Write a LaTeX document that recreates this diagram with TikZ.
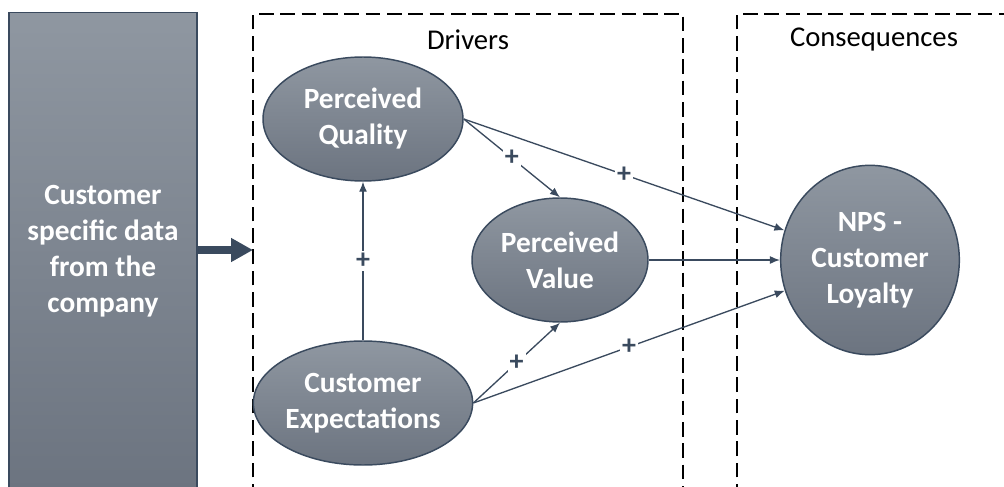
\documentclass[tikz,border=0pt]{standalone}
\usepackage{fontspec}
\setmainfont{Carlito}
\usetikzlibrary{arrows.meta,shapes.geometric,positioning}
\definecolor{topgray}{HTML}{8F97A1}
\definecolor{botgray}{HTML}{6C7480}
\definecolor{edgeblue}{HTML}{3A4A5E}
\tikzset{%
  >={Latex[width=6pt,length=7.5pt]},
  % Specifications for style of nodes:
         base/.style = {draw=edgeblue, line width=1.1pt, top color=topgray,
                        bottom color=botgray, text=white, align=center,
                        inner sep=0pt, font=\fontsize{22}{27}\selectfont\bfseries},
    construct/.style = {base, ellipse, minimum width=150pt, minimum height=93pt},
      outcome/.style = {base, ellipse, minimum width=134pt, minimum height=142pt},
      datasrc/.style = {base, rectangle, minimum width=141pt, minimum height=358pt},
        frame/.style = {dashed, line width=1.1pt, dash pattern=on 11pt off 5pt},
        title/.style = {font=\fontsize{21.5}{24}\selectfont},
         link/.style = {->, draw=edgeblue, line width=1pt},
         sign/.style = {fill=white, inner sep=1.5pt, text=edgeblue,
                        font=\fontsize{21}{21}\selectfont\bfseries},
}
\begin{document}
\begin{tikzpicture}[x=0.75pt, y=-0.75pt]
\useasboundingbox (0,0) rectangle (1004,486);

% dashed frames
\draw[frame] (253,520) |- (683,14) -- (683,520);
\draw[frame] (737,520) |- (1010,14);
\node (Drivers) [title] at (468,40) {Drivers};
\node (Conseq)  [title] at (874,40) {Consequences};

\node (Data)   [datasrc]   at (103,251) {Customer\\specific data\\from the\\company};

\node (PQ)     [construct] at (363,119) {Perceived\\Quality};

\node (CE)     [construct] at (363,403) {Customer\\Expectations};

\node (PV)     [construct, minimum width=132pt] at (560,260) {Perceived\\Value};

\node (NPS)    [outcome]   at (870,260) {NPS -\\Customer\\Loyalty};

\coordinate (In) at (253,250);

\draw[-{Triangle[length=16.5pt,width=17pt]}, draw=edgeblue, line width=6pt]
      (Data.east |- In) -- (In);

\draw[link] (CE.north) -- node[sign] {+} (PQ.south);
\draw[link] (PQ.east) -- node[sign] {+} (PV.north);
\draw[link] (PQ.east) -- node[sign] {+} (NPS);
\draw[link] (CE.east) -- node[sign] {+} (PV.south);
\draw[link] (CE.east) -- node[sign] {+} (NPS);
\draw[link] (PV.east) -- (NPS.west);
\end{tikzpicture}
\end{document}
